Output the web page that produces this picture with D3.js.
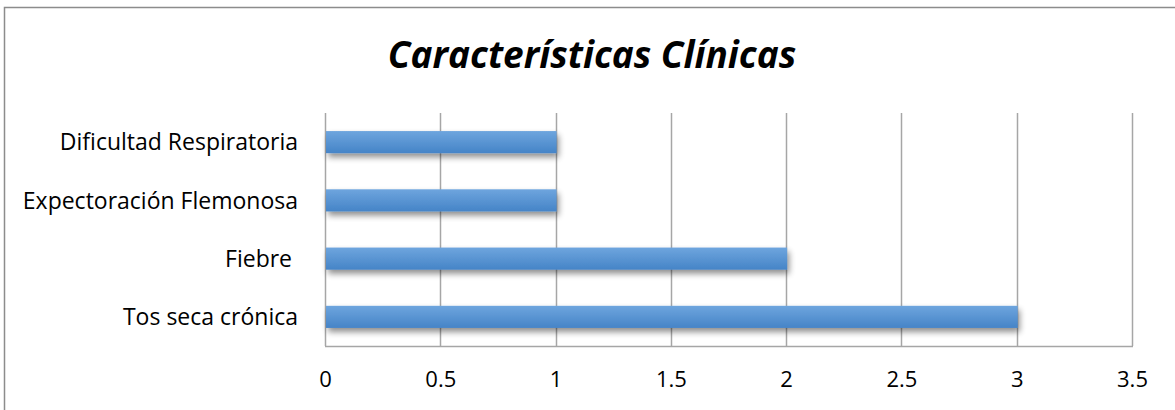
<!DOCTYPE html>
<html>
<head>
<meta charset="utf-8">
<script src="https://cdn.jsdelivr.net/npm/d3@7"></script>
<style>
  body { margin: 0; background: #fff; }
  text { font-family: "Open Sans", "Noto Sans", sans-serif; font-variant-ligatures: none; }
</style>
</head>
<body>
<div id="chart"></div>
<script>
// data
const categories = ["Dificultad Respiratoria", "Expectoración Flemonosa", "Fiebre ", "Tos seca crónica"];
const values = [1, 1, 2, 3];
const xTicks = [0, 0.5, 1, 1.5, 2, 2.5, 3, 3.5];
const chartTitle = "Características Clínicas";

const w = 1175, h = 410;
const plot = {left: 325, right: 1132, top: 113, bottom: 346};

let svg = d3.select("#chart").append("svg")
  .attr("width", w)
  .attr("height", h);

let defs = svg.append("defs");
let grad = defs.append("linearGradient")
  .attr("id", "barGrad")
  .attr("x1", 0).attr("y1", 0).attr("x2", 0).attr("y2", 1);
grad.append("stop").attr("offset", "0%").attr("stop-color", "#6ea5de");
grad.append("stop").attr("offset", "100%").attr("stop-color", "#4584c7");

let shadow = defs.append("filter")
  .attr("id", "shadow")
  .attr("x", "-5%").attr("y", "-50%").attr("width", "110%").attr("height", "220%");
shadow.append("feGaussianBlur").attr("in", "SourceAlpha").attr("stdDeviation", 3);
shadow.append("feOffset").attr("dx", 2).attr("dy", 4).attr("result", "blur");
shadow.append("feComponentTransfer").append("feFuncA").attr("type", "linear").attr("slope", 0.45);
let merge = shadow.append("feMerge");
merge.append("feMergeNode");
merge.append("feMergeNode").attr("in", "SourceGraphic");

// outer frame (only top and left edges are inside the picture)
svg.append("rect")
  .attr("x", 4.5).attr("y", 7.5)
  .attr("width", 1300).attr("height", 600)
  .attr("fill", "#fff")
  .attr("stroke", "#8c8c8c")
  .attr("stroke-width", 1.5);

// title
svg.append("text")
  .attr("x", 592)
  .attr("y", 68)
  .attr("text-anchor", "middle")
  .attr("font-size", 37)
  .attr("font-weight", "bold")
  .attr("font-style", "italic")
  .attr("fill", "#000")
  .text(chartTitle);

let xScale = d3.scaleLinear()
  .domain([0, 3.5])
  .range([plot.left, plot.right]);

let yScale = d3.scaleBand()
  .domain(categories)
  .range([plot.top, plot.bottom])
  .paddingInner(0.62)
  .paddingOuter(0.31);

// vertical gridlines
svg.append("g")
  .selectAll("line")
  .data(xTicks)
  .enter()
  .append("line")
  .attr("x1", d => Math.round(xScale(d)) + 0.5)
  .attr("x2", d => Math.round(xScale(d)) + 0.5)
  .attr("y1", plot.top)
  .attr("y2", plot.bottom)
  .attr("stroke", "#a6a6a6")
  .attr("stroke-width", 1.5);

// bottom axis line
svg.append("line")
  .attr("x1", plot.left)
  .attr("x2", plot.right + 1)
  .attr("y1", plot.bottom + 0.5)
  .attr("y2", plot.bottom + 0.5)
  .attr("stroke", "#a6a6a6")
  .attr("stroke-width", 1.5);

// x tick labels
let xAxis = d3.axisBottom(xScale)
  .tickValues(xTicks)
  .tickSize(0)
  .tickPadding(25)
  .tickFormat(d3.format("~g"));
let xAxisGroup = svg.append("g")
  .attr("transform", "translate(0," + plot.bottom + ")")
  .call(xAxis);
xAxisGroup.select(".domain").remove();
xAxisGroup.selectAll("text")
  .attr("font-size", 22)
  .attr("fill", "#000")
  .attr("font-family", "'Open Sans', sans-serif");

// bars
svg.append("g")
  .selectAll("rect")
  .data(values)
  .enter()
  .append("rect")
  .attr("x", xScale(0) + 1)
  .attr("y", (d, i) => yScale(categories[i]))
  .attr("width", d => xScale(d) - xScale(0))
  .attr("height", yScale.bandwidth())
  .attr("fill", "url(#barGrad)")
  .attr("filter", "url(#shadow)");

// category labels
svg.append("g")
  .selectAll("text")
  .data(categories)
  .enter()
  .append("text")
  .attr("x", 298)
  .attr("y", d => yScale(d) + yScale.bandwidth() / 2)
  .attr("dy", "0.36em")
  .attr("text-anchor", "end")
  .attr("font-size", 23)
  .attr("fill", "#000")
  .style("white-space", "pre")
  .text(d => d);
</script>
</body>
</html>
